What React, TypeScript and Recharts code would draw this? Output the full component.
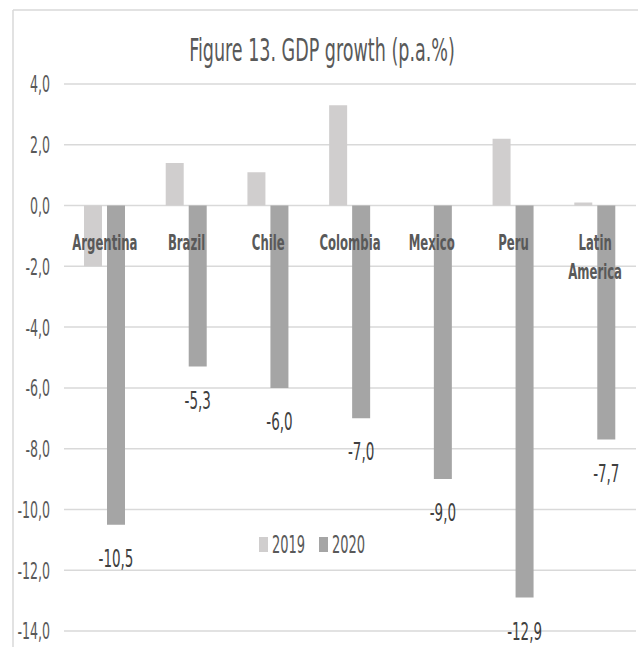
import React from "react";
import { BarChart, Bar, XAxis, YAxis, CartesianGrid, Legend, LabelList } from "recharts";

const categories = ["Argentina", "Brazil", "Chile", "Colombia", "Mexico", "Peru", "Latin America"];
const growth2019 = [-2.0, 1.4, 1.1, 3.3, 0.0, 2.2, 0.1];
const growth2020 = [-10.5, -5.3, -6.0, -7.0, -9.0, -12.9, -7.7];
const yTicks = [4, 2, 0, -2, -4, -6, -8, -10, -12, -14];
const title = "Figure 13. GDP growth (p.a.%)";

const data = categories.map((name, i) => ({ name, y2019: growth2019[i], y2020: growth2020[i] }));

const W = 638;
const H = 647;
const PLOT_TOP = 84;
const PLOT_BOTTOM = 631;
const X_AXIS_H = 20;
const Y_MAX = 4;
const Y_MIN = -14;
const ZERO_Y = PLOT_TOP + ((PLOT_BOTTOM - PLOT_TOP) * Y_MAX) / (Y_MAX - Y_MIN);
const K = 1.65;
const FONT = "'Liberation Sans Narrow', 'Arial Narrow', 'DejaVu Sans Condensed', sans-serif";
const TEXT = "#595959";
const GRID = "#d9d9d9";
const C2019 = "#d0cece";
const C2020 = "#a5a5a5";

const fmt = (v: number) => v.toFixed(1).replace(".", ",");

function SText(props: any) {
  const { x, y, size, fill = TEXT, anchor = "middle", weight = "normal", children } = props;
  return (
    <text
      transform={`translate(${x},${y}) scale(1,${K})`}
      fontSize={size}
      fill={fill}
      textAnchor={anchor}
      fontWeight={weight}
      fontFamily={FONT}
    >
      {children}
    </text>
  );
}

const YTick = (props: any) => {
  const { x, y, payload } = props;
  return (
    <SText x={x} y={y + 8.4} size={14} anchor="end">
      {fmt(payload.value)}
    </SText>
  );
};

const XTick = (props: any) => {
  const { x, payload } = props;
  const lines = String(payload.value).split(" ");
  return (
    <g>
      {lines.map((l: string, i: number) => (
        <SText key={i} x={x} y={ZERO_Y + 44 + i * 29} size={13} weight="bold">
          {l}
        </SText>
      ))}
    </g>
  );
};

const BarLabel = (props: any) => {
  const { x, y, width, height, value } = props;
  const bottom = Math.max(y, y + height);
  return (
    <SText x={x + width / 2} y={bottom + 33 + 9} size={15} fill="#404040">
      {fmt(value)}
    </SText>
  );
};

const LegendContent = (props: any) => {
  const { payload = [] } = props;
  return (
    <svg width={150} height={30}>
      {payload.map((p: any, i: number) => (
        <g key={i}>
          <rect x={4 + i * 60} y={7} width={9} height={15} fill={p.color} />
          <SText x={17 + i * 60} y={23} size={14.5} anchor="start">
            {p.value}
          </SText>
        </g>
      ))}
    </svg>
  );
};

export default function App() {
  return (
    <div style={{ position: "absolute", left: 0, top: 0, width: W, height: H, background: "#fff", overflow: "hidden" }}>
      <BarChart
        width={W}
        height={H}
        data={data}
        margin={{ top: PLOT_TOP - X_AXIS_H, right: 2, bottom: H - PLOT_BOTTOM, left: 0 }}
        barSize={18}
        barGap={5}
      >
        <CartesianGrid vertical={false} stroke={GRID} strokeWidth={1.5} />
        <XAxis
          dataKey="name"
          orientation="top"
          height={X_AXIS_H}
          axisLine={false}
          tickLine={false}
          tick={<XTick />}
          interval={0}
        />
        <YAxis
          width={64}
          domain={[Y_MIN, Y_MAX]}
          ticks={yTicks}
          interval={0}
          axisLine={false}
          tickLine={false}
          tickSize={0}
          tickMargin={14}
          tick={<YTick />}
        />
        <Legend
          layout="horizontal"
          verticalAlign="middle"
          align="center"
          content={<LegendContent />}
          wrapperStyle={{ position: "absolute", left: 255, top: 530, width: 150, height: 30 }}
        />
        <Bar dataKey="y2019" name="2019" fill={C2019} isAnimationActive={false} />
        <Bar dataKey="y2020" name="2020" fill={C2020} isAnimationActive={false}>
          <LabelList dataKey="y2020" content={<BarLabel />} />
        </Bar>
      </BarChart>
      <svg width={W} height={H} style={{ position: "absolute", left: 0, top: 0, pointerEvents: "none" }}>
        <line x1={13} y1={10} x2={13} y2={H} stroke={GRID} strokeWidth={1.5} />
        <line x1={13} y1={10} x2={W} y2={10} stroke={GRID} strokeWidth={1.5} />
        <SText x={322} y={61} size={19.5}>
          {title}
        </SText>
      </svg>
    </div>
  );
}
